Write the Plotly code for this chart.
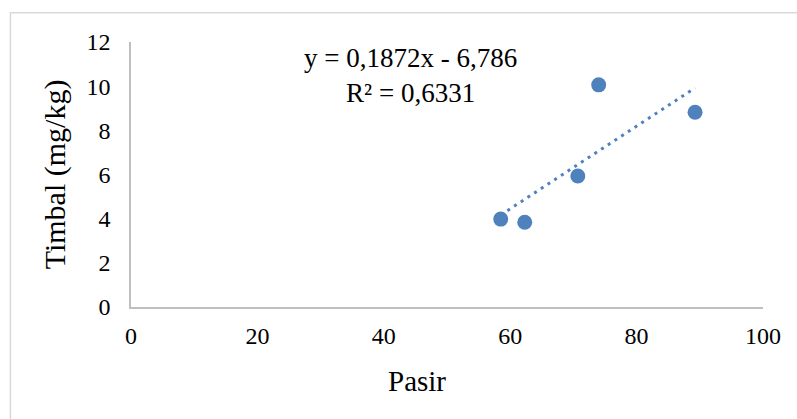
import plotly.graph_objects as go

# Data
pasir = [58.5, 62.3, 70.7, 74.0, 89.25]
timbal = [3.98, 3.84, 5.93, 10.06, 8.82]
slope = 0.1872
intercept = -6.786
eq_text = "y = 0,1872x - 6,786<br>R² = 0,6331"
x_ticks = [0, 20, 40, 60, 80, 100]
y_ticks = [0, 2, 4, 6, 8, 10, 12]

W, H = 797, 419
ml, mr, mt, mb = 130.7, 33.7, 42.3, 112.3
pw, ph = W - ml - mr, H - mt - mb

def px2paper_x(px):
    return (px - ml) / pw

def py2paper_y(py):
    return (H - mb - py) / ph

FONT = "Liberation Serif"
COLOR = "#4F81BD"

xmin, xmax = min(pasir), max(pasir)
trend_x = [xmin, xmax]
trend_y = [slope * v + intercept for v in trend_x]

fig = go.Figure()
fig.add_trace(go.Scatter(x=trend_x, y=trend_y, mode="lines",
                         line=dict(color=COLOR, width=3, dash="3px,5px"),
                         hoverinfo="skip", showlegend=False))
fig.add_trace(go.Scatter(x=pasir, y=timbal, mode="markers",
                         marker=dict(color=COLOR, size=15, line=dict(width=0)),
                         showlegend=False))

fig.update_layout(
    width=W, height=H,
    margin=dict(l=ml, r=mr, t=mt, b=mb, autoexpand=False),
    paper_bgcolor="white", plot_bgcolor="white",
    font=dict(family=FONT, color="#000000", size=23),
    xaxis=dict(range=[0, 100], tickvals=x_ticks, showgrid=False, zeroline=False,
               showline=True, linecolor="#BFBFBF", linewidth=1.5,
               ticks="outside", ticklen=6, tickcolor="rgba(0,0,0,0)",
               tickfont=dict(family=FONT, size=24, color="#000")),
    yaxis=dict(range=[0, 12], tickvals=y_ticks, showgrid=False, zeroline=False,
               showline=True, linecolor="#BFBFBF", linewidth=1.5,
               ticks="outside", ticklen=14, tickcolor="rgba(0,0,0,0)",
               tickfont=dict(family=FONT, size=24, color="#000")),
    shapes=[dict(type="rect", xref="paper", yref="paper",
                 x0=px2paper_x(10), x1=px2paper_x(W + 5),
                 y0=py2paper_y(H + 5), y1=py2paper_y(13),
                 line=dict(color="#D9D9D9", width=1.5), fillcolor="rgba(0,0,0,0)",
                 layer="below")],
    annotations=[
        dict(text=eq_text, xref="paper", yref="paper",
             x=px2paper_x(410), y=py2paper_y(76), xanchor="center", yanchor="middle",
             showarrow=False, align="center",
             font=dict(family=FONT, size=27, color="#000")),
        dict(text="Pasir", xref="paper", yref="paper",
             x=px2paper_x(417), y=py2paper_y(381), xanchor="center", yanchor="middle",
             showarrow=False, font=dict(family=FONT, size=29, color="#000")),
        dict(text="Timbal (mg/kg)", xref="paper", yref="paper",
             x=px2paper_x(55), y=py2paper_y(174), xanchor="center", yanchor="middle",
             showarrow=False, textangle=-90, font=dict(family=FONT, size=30, color="#000")),
    ],
)

fig.write_html("out.html")
